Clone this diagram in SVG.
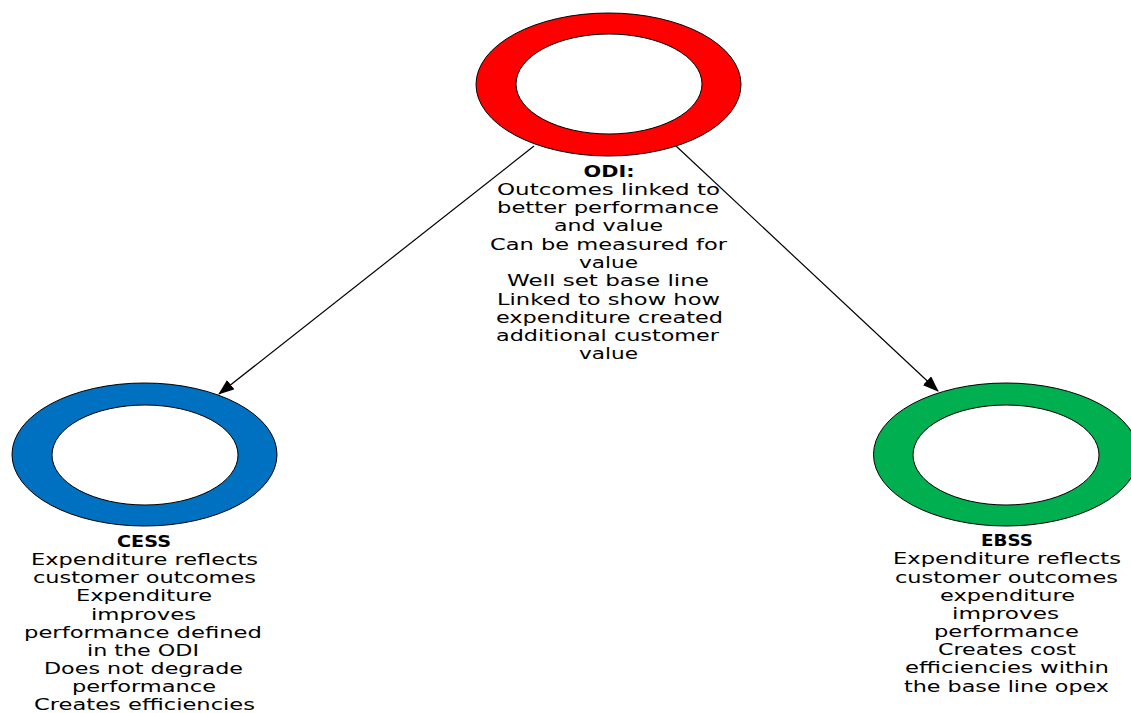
<svg xmlns="http://www.w3.org/2000/svg" width="1131" height="713" viewBox="0 0 1131 713">
<style>
.ring{stroke:#000;stroke-width:1}
.hole{fill:#fff;stroke:#000;stroke-width:1}
.t{font-family:"DejaVu Sans","Open Sans",sans-serif;font-size:15px;fill:#000;text-anchor:middle}
.b{font-weight:bold}
.conn{stroke:#000;stroke-width:1.2;fill:none;marker-end:url(#arr)}
</style>
<defs>
<marker id="arr" markerWidth="16" markerHeight="12" refX="15" refY="6" orient="auto" markerUnits="userSpaceOnUse">
<path d="M0,0 L16,6 L0,12 Z" fill="#000"/>
</marker>
</defs>
<rect width="1131" height="713" fill="#fff"/>
<g id="connectors">
<line class="conn" x1="534" y1="146" x2="219" y2="394"/>
<line class="conn" x1="676" y1="146" x2="938" y2="391"/>
</g>
<g id="odi">
<ellipse class="ring" cx="608.5" cy="84.5" rx="132.5" ry="71.5" fill="#ff0000"/>
<ellipse class="hole" cx="609" cy="84" rx="93" ry="50"/>
<text class="t b" x="609" y="177" textLength="51" lengthAdjust="spacingAndGlyphs">ODI:</text>
<text class="t" x="608.5" y="195" textLength="223" lengthAdjust="spacingAndGlyphs">Outcomes linked to</text>
<text class="t" x="608" y="213" textLength="222" lengthAdjust="spacingAndGlyphs">better performance</text>
<text class="t" x="608.5" y="231" textLength="109" lengthAdjust="spacingAndGlyphs">and value</text>
<text class="t" x="608.5" y="250" textLength="237" lengthAdjust="spacingAndGlyphs">Can be measured for</text>
<text class="t" x="608.5" y="268" textLength="59" lengthAdjust="spacingAndGlyphs">value</text>
<text class="t" x="608" y="286" textLength="202" lengthAdjust="spacingAndGlyphs">Well set base line</text>
<text class="t" x="608.5" y="305" textLength="223" lengthAdjust="spacingAndGlyphs">Linked to show how</text>
<text class="t" x="609.5" y="323" textLength="227" lengthAdjust="spacingAndGlyphs">expenditure created</text>
<text class="t" x="607.5" y="341" textLength="223" lengthAdjust="spacingAndGlyphs">additional customer</text>
<text class="t" x="608.5" y="359" textLength="59" lengthAdjust="spacingAndGlyphs">value</text>
</g>
<g id="cess">
<ellipse class="ring" cx="144.5" cy="454.5" rx="132.5" ry="71.5" fill="#0070c0"/>
<ellipse class="hole" cx="145" cy="455" rx="93" ry="50"/>
<text class="t b" x="144" y="547" textLength="54" lengthAdjust="spacingAndGlyphs">CESS</text>
<text class="t" x="144.5" y="565" textLength="227" lengthAdjust="spacingAndGlyphs">Expenditure reflects</text>
<text class="t" x="144.5" y="583" textLength="223" lengthAdjust="spacingAndGlyphs">customer outcomes</text>
<text class="t" x="144" y="601" textLength="136" lengthAdjust="spacingAndGlyphs">Expenditure</text>
<text class="t" x="143.5" y="620" textLength="105" lengthAdjust="spacingAndGlyphs">improves</text>
<text class="t" x="143" y="638" textLength="238" lengthAdjust="spacingAndGlyphs">performance defined</text>
<text class="t" x="143" y="656" textLength="112" lengthAdjust="spacingAndGlyphs">in the ODI</text>
<text class="t" x="143.5" y="674" textLength="199" lengthAdjust="spacingAndGlyphs">Does not degrade</text>
<text class="t" x="144" y="692" textLength="144" lengthAdjust="spacingAndGlyphs">performance</text>
<text class="t" x="144.5" y="710" textLength="221" lengthAdjust="spacingAndGlyphs">Creates efficiencies</text>
</g>
<g id="ebss">
<ellipse class="ring" cx="1006" cy="454.5" rx="132.5" ry="71.5" fill="#00b050"/>
<ellipse class="hole" cx="1006" cy="455" rx="93" ry="50"/>
<text class="t b" x="1007" y="546" textLength="52" lengthAdjust="spacingAndGlyphs">EBSS</text>
<text class="t" x="1007" y="564" textLength="228" lengthAdjust="spacingAndGlyphs">Expenditure reflects</text>
<text class="t" x="1006.5" y="583" textLength="223" lengthAdjust="spacingAndGlyphs">customer outcomes</text>
<text class="t" x="1007.5" y="601" textLength="135" lengthAdjust="spacingAndGlyphs">expenditure</text>
<text class="t" x="1005.5" y="619" textLength="107" lengthAdjust="spacingAndGlyphs">improves</text>
<text class="t" x="1006.5" y="637" textLength="145" lengthAdjust="spacingAndGlyphs">performance</text>
<text class="t" x="1007" y="655" textLength="138" lengthAdjust="spacingAndGlyphs">Creates cost</text>
<text class="t" x="1007" y="673" textLength="204" lengthAdjust="spacingAndGlyphs">efficiencies within</text>
<text class="t" x="1006.5" y="692" textLength="205" lengthAdjust="spacingAndGlyphs">the base line opex</text>
</g>
</svg>
